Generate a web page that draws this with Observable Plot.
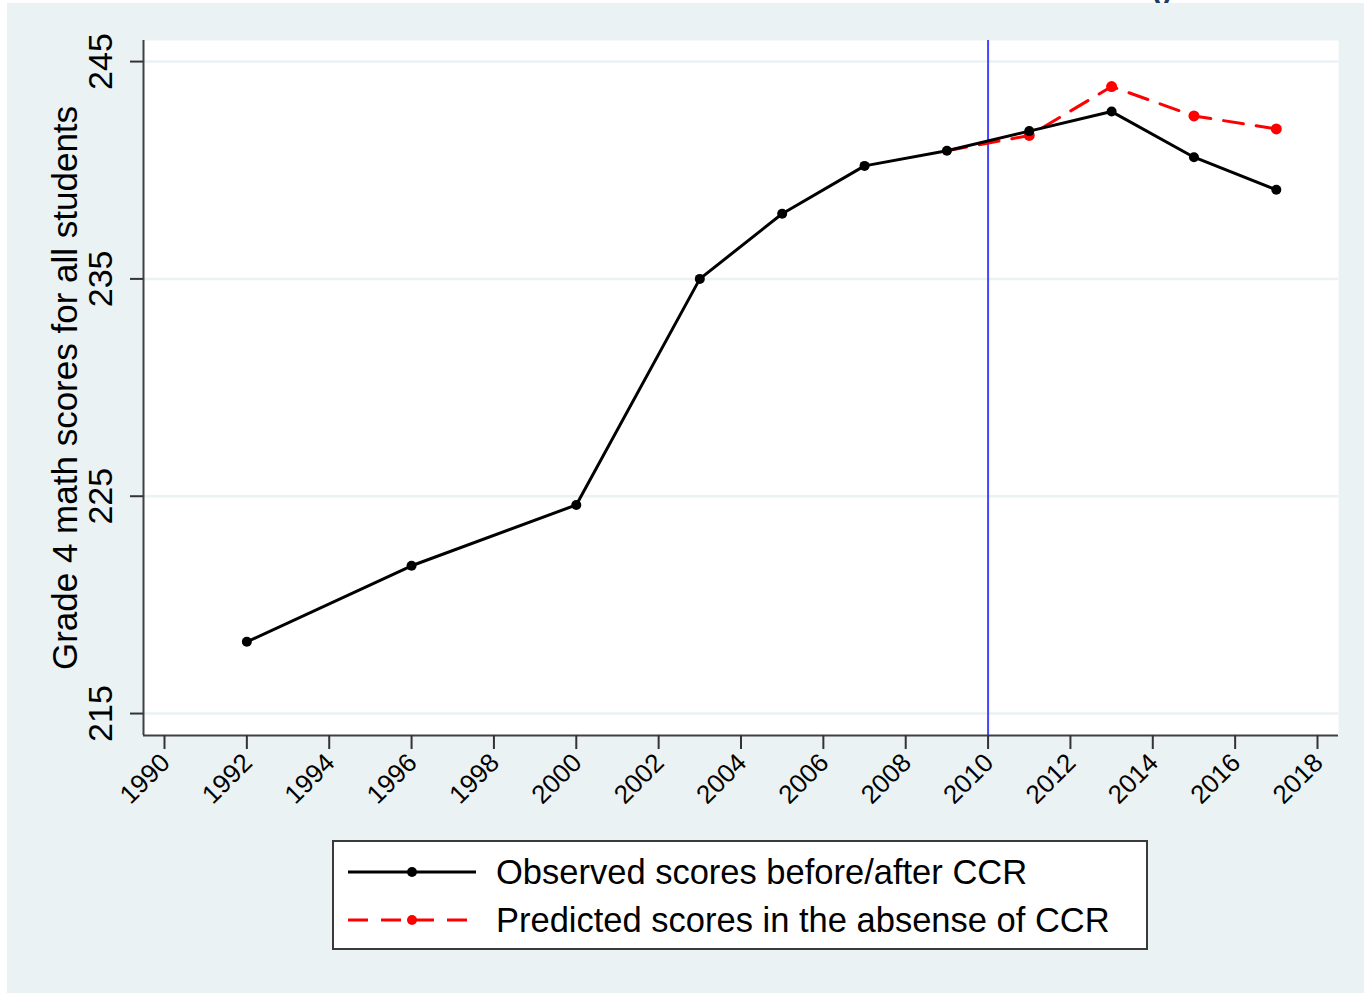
<!DOCTYPE html>
<html>
<head>
<meta charset="utf-8">
<script src="https://cdn.jsdelivr.net/npm/d3@7"></script>
<script src="https://cdn.jsdelivr.net/npm/@observablehq/plot@0.6"></script>
<style>
  html, body { margin: 0; padding: 0; background: #ffffff; }
  body { width: 1364px; height: 994px; position: relative; overflow: hidden; font-family: "Liberation Sans", Arial, sans-serif; }
  #cut { position: absolute; left: 1152px; top: -27px; font-size: 30px; font-weight: bold; color: #1c3d6b; }
  #panel { position: absolute; left: 7px; top: 3px; width: 1357px; height: 990px; background: #eaf2f3; }
  #chart { position: absolute; left: 0; top: 0; }
  #legend { position: absolute; left: 332px; top: 840px; width: 812px; height: 106px; background: #ffffff; border: 2px solid #3a3a3a; box-sizing: content-box; }
  .row { position: absolute; left: 12px; height: 40px; display: flex; align-items: center; }
  .row svg { display: block; }
  .row span { margin-left: 20px; font-size: 34.5px; color: #000; white-space: nowrap; }
</style>
</head>
<body>
<div id="cut">()</div>
<div id="panel"></div>
<div id="chart"></div>
<div id="legend">
  <div class="row" style="top:10px"><svg width="130" height="20" id="sym1"></svg><span id="lab1"></span></div>
  <div class="row" style="top:58px"><svg width="130" height="20" id="sym2"></svg><span id="lab2"></span></div>
</div>
<script>
// ---- data ----
const observedYears  = [1992, 1996, 2000, 2003, 2005, 2007, 2009, 2011, 2013, 2015, 2017];
const observedScores = [218.3, 221.8, 224.6, 235.0, 238.0, 240.2, 240.9, 241.8, 242.7, 240.6, 239.1];
const predictedYears  = [2009, 2011, 2013, 2015, 2017];
const predictedScores = [240.9, 241.6, 243.85, 242.5, 241.9];
const xTicks = [1990, 1992, 1994, 1996, 1998, 2000, 2002, 2004, 2006, 2008, 2010, 2012, 2014, 2016, 2018];
const yTicks = [215, 225, 235, 245];
const policyYear = [2010];
const yTitle = "Grade 4 math scores for all students";
const legendLabels = ["Observed scores before/after CCR", "Predicted scores in the absense of CCR"];

const xDomain = [1989.49, 2018.51];
const yDomain = [213.99, 245.97];

const observed = observedYears.map((yr, i) => ({year: yr, score: observedScores[i]}));
const predicted = predictedYears.map((yr, i) => ({year: yr, score: predictedScores[i]}));

const chart = Plot.plot({
  width: 1364,
  height: 830,
  marginLeft: 143,
  marginRight: 26,
  marginTop: 40,
  marginBottom: 95,
  style: {background: "transparent", fontFamily: "'Liberation Sans', Arial, sans-serif", color: "#000"},
  x: {domain: xDomain, axis: null, label: null},
  y: {domain: yDomain, axis: null, label: null},
  marks: [
    Plot.frame({fill: "white", stroke: null}),
    Plot.gridY(yTicks, {stroke: "#eaf2f3", strokeOpacity: 1, strokeWidth: 2.5}),
    Plot.ruleX(policyYear, {stroke: "#4545ff", strokeWidth: 2}),
    Plot.line(predicted, {x: "year", y: "score", stroke: "#ff0000", strokeWidth: 3, strokeDasharray: "20,13"}),
    Plot.dot(predicted.slice(1), {x: "year", y: "score", fill: "#ff0000", r: 5.5}),
    Plot.line(observed, {x: "year", y: "score", stroke: "#000", strokeWidth: 3}),
    Plot.dot(observed, {x: "year", y: "score", fill: "#000", r: 5}),
    Plot.ruleX([xDomain[0]], {stroke: "#404040", strokeWidth: 2}),
    Plot.ruleY([yDomain[0]], {stroke: "#404040", strokeWidth: 2}),
    Plot.axisX({ticks: xTicks, tickSize: 14, tickFormat: () => "", label: null, stroke: "#333", strokeWidth: 2}),
    Plot.axisY({ticks: yTicks, tickSize: 13, tickFormat: () => "", label: null, stroke: "#333", strokeWidth: 2}),
    Plot.text(xTicks, {x: d => d, frameAnchor: "bottom", dy: 23, dx: 1, rotate: -45, textAnchor: "end", lineAnchor: "middle", fontSize: 26, text: d => String(d), fill: "#000"}),
    Plot.text(yTicks, {y: d => d, frameAnchor: "left", dx: -42, rotate: -90, textAnchor: "middle", lineAnchor: "middle", fontSize: 34, text: d => String(d), fill: "#000"}),
    Plot.text([yTitle], {frameAnchor: "left", dx: -78, rotate: -90, textAnchor: "middle", lineAnchor: "middle", fontSize: 35, text: d => d, fill: "#000"})
  ]
});
document.getElementById("chart").appendChild(chart);

// legend symbols
function sym(id, color, dash) {
  const s = d3.select("#" + id);
  s.append("line").attr("x1", 2).attr("x2", 130).attr("y1", 10).attr("y2", 10)
    .attr("stroke", color).attr("stroke-width", 3).attr("stroke-dasharray", dash);
  s.append("circle").attr("cx", 66).attr("cy", 10).attr("r", 5).attr("fill", color);
}
sym("sym1", "#000", null);
sym("sym2", "#ff0000", "20,13");
document.getElementById("lab1").textContent = legendLabels[0];
document.getElementById("lab2").textContent = legendLabels[1];
</script>
</body>
</html>
